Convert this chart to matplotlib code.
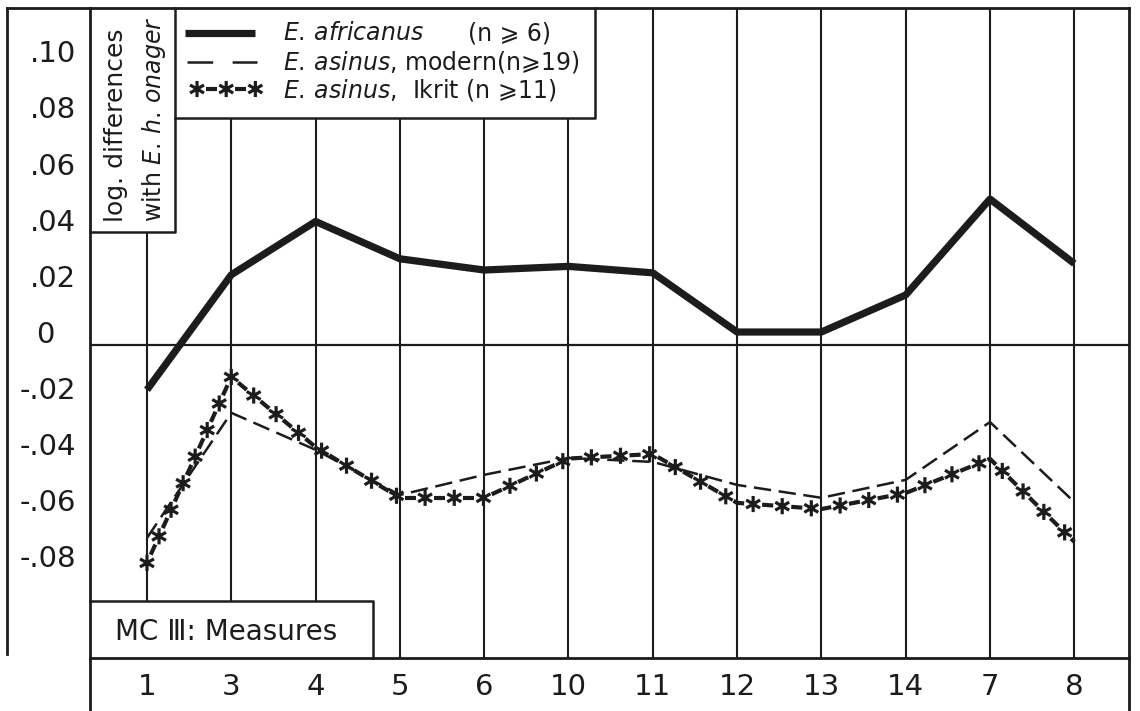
import numpy as np
import matplotlib
matplotlib.use("Agg")
import matplotlib.pyplot as plt
from matplotlib.lines import Line2D
from matplotlib.path import Path
from matplotlib.transforms import IdentityTransform, blended_transform_factory, offset_copy
from matplotlib.patheffects import AbstractPathEffect

# ---------------- data ----------------
measures = ["1", "3", "4", "5", "6", "10", "11", "12", "13", "14", "7", "8"]
africanus = [-0.016, 0.025, 0.044, 0.0307, 0.0267, 0.028, 0.0257, 0.0046, 0.0046, 0.0178, 0.052, 0.029]
asinus_modern = [-0.0688, -0.0242, -0.0374, -0.0535, -0.0463, -0.0403, -0.0417, -0.0499, -0.0545, -0.0481, -0.0275, -0.056]
asinus_ikrit = [-0.0777, -0.0114, -0.0364, -0.0545, -0.0545, -0.0405, -0.0389, -0.0563, -0.0585, -0.0528, -0.0406, -0.0702]
ytick_values = [0.10, 0.08, 0.06, 0.04, 0.02, 0.0, -0.02, -0.04, -0.06, -0.08]
ytick_labels = [".10", ".08", ".06", ".04", ".02", "0", "-.02", "-.04", "-.06", "-.08"]

INK = "#1c1c1c"
plt.rcParams["font.family"] = ["DejaVu Sans"]
plt.rcParams["mathtext.fontset"] = "dejavusans"
plt.rcParams["lines.scale_dashes"] = False


class StarDashStroke(AbstractPathEffect):
    """Line style: asterisks spaced along the path with short dashes between them."""

    def __init__(self, spacing=21.0, start=0.0, radius=5.8, gap=6.5, star_lw=2.3, line_lw=3.0):
        super().__init__()
        self.spacing, self.start, self.radius = spacing, start, radius
        self.gap, self.star_lw, self.line_lw = gap, star_lw, line_lw

    def draw_path(self, renderer, gc, tpath, affine, rgbFace=None):
        k = renderer.points_to_pixels(1.0)
        verts = affine.transform(tpath.vertices)
        d = np.hypot(*np.diff(verts, axis=0).T)
        verts = verts[np.concatenate([[True], d > 1e-9])]
        cum = np.concatenate([[0.0], np.cumsum(np.hypot(*np.diff(verts, axis=0).T))])
        total = cum[-1]
        sp, st, r, g = self.spacing * k, self.start * k, self.radius * k, self.gap * k

        def at(s):
            s = np.atleast_1d(s)
            return np.column_stack([np.interp(s, cum, verts[:, 0]), np.interp(s, cum, verts[:, 1])])

        stars = np.arange(st, total + 1e-6, sp)
        gl = renderer.new_gc()
        gl.copy_properties(gc)
        gl.set_dashes(0, None)
        gl.set_linewidth(self.line_lw)
        gl.set_capstyle("butt")
        bounds = list(stars) + ([total + g] if total - stars[-1] > g + 2 * k else [])
        for a, b in zip(bounds[:-1], bounds[1:]):
            s0, s1 = a + g, min(b - g, total)
            if s1 <= s0:
                continue
            inner = verts[(cum > s0) & (cum < s1)]
            poly = np.vstack([at(s0), inner, at(s1)])
            renderer.draw_path(gl, Path(poly), IdentityTransform())
        gs = renderer.new_gc()
        gs.copy_properties(gc)
        gs.set_dashes(0, None)
        gs.set_linewidth(self.star_lw)
        gs.set_capstyle("butt")
        for p in at(stars):
            pts, codes = [], []
            for ang in (90, 30, 150):
                dx, dy = r * np.cos(np.radians(ang)), r * np.sin(np.radians(ang))
                pts += [(p[0] - dx, p[1] - dy), (p[0] + dx, p[1] + dy)]
                codes += [Path.MOVETO, Path.LINETO]
            renderer.draw_path(gs, Path(np.array(pts), codes), IdentityTransform())
        gl.restore()
        gs.restore()


W, H = 1140, 711
fig = plt.figure(figsize=(W / 100, H / 100), dpi=100)
fig.patch.set_facecolor("white")


def fx(p):
    return p / W


def fy(p):
    return 1 - p / H


AX_L, AX_R, AX_T, AX_B = 90, 1129, 8, 658
ax = fig.add_axes([fx(AX_L), fy(AX_B), (AX_R - AX_L) / W, (AX_B - AX_T) / H])
x = np.arange(len(measures))
ax.set_xlim(-0.676, 11.649)
ax.set_ylim(-0.1116, 0.1201)
for s in ax.spines.values():
    s.set_linewidth(2.0)
    s.set_color(INK)
ax.set_yticks([])
ax.set_xticks(x, measures, fontsize=21, color=INK)
ax.tick_params(axis="x", length=0, pad=11)


def ay(p):
    return (AX_B - p) / (AX_B - AX_T)


def axx(p):
    return (p - AX_L) / (AX_R - AX_L)


# vertical rulings (extents follow the boxes of the original drawing)
tops = [ay(232)] + [ay(118)] * 5 + [1.0] * 6
bottoms = [ay(601)] * 3 + [0.0] * 9
ax.vlines(x, bottoms, tops, transform=ax.get_xaxis_transform(), colors=INK, lw=1.5, zorder=1)
ax.axhline(0, color=INK, lw=1.6, zorder=1)

# boxes inside the frame
for xs, ys in [([175, 175, 90], [8, 232, 232]),
               ([175, 595, 595], [118, 118, 8]),
               ([90, 373, 373], [601, 601, 658])]:
    ax.plot([axx(v) for v in xs], [ay(v) for v in ys], transform=ax.transAxes,
            color=INK, lw=1.8, clip_on=False, zorder=2)

# outer frame parts outside the axes
for xs, ys in [([7, 7], [8, 654]), ([7, 90], [8, 8]),
               ([90, 90], [658, 711]), ([1129, 1129], [658, 711])]:
    fig.add_artist(Line2D([fx(v) for v in xs], [fy(v) for v in ys], color=INK, lw=2.0))

# data series
ax.plot(x, africanus, color=INK, lw=5.2, solid_joinstyle="round", solid_capstyle="butt", zorder=4)
ax.plot(x, asinus_modern, color=INK, lw=1.8, dashes=(12.5, 5.5), zorder=3)
ax.plot(x, asinus_ikrit, color=INK, lw=3.0, zorder=3, path_effects=[StarDashStroke()])

# y labels
ytr = offset_copy(blended_transform_factory(fig.transFigure, ax.transData), fig=fig, y=10, units="dots")
for v, lab in zip(ytick_values, ytick_labels):
    fig.text(fx(55) if lab == "0" else fx(76), v, lab, transform=ytr, ha="right", va="center",
             fontsize=21, color=INK)

# axis title box
fig.text(fx(116), fy(222), "log. differences", rotation=90, rotation_mode="anchor",
         ha="left", va="center", fontsize=18, color=INK)
fig.text(fx(154), fy(222), r"with $\it{E.\,h.\,onager}$", rotation=90, rotation_mode="anchor",
         ha="left", va="center", fontsize=17, color=INK)

# legend
fig.add_artist(Line2D([fx(185), fx(255)], [fy(33), fy(33)], color=INK, lw=5.2, solid_capstyle="butt"))
fig.add_artist(Line2D([fx(187), fx(257)], [fy(62), fy(62)], color=INK, lw=1.8, dashes=(18.5, 14)))
fig.add_artist(Line2D([fx(188), fx(258)], [fy(89), fy(89)], color=INK, lw=3.0,
                      path_effects=[StarDashStroke(start=6.5)]))
fig.text(fx(283), fy(33), r"$\it{E.\,africanus}$", va="center", fontsize=17, color=INK)
fig.text(fx(468), fy(33), "(n ⩾ 6)", va="center", fontsize=17, color=INK)
fig.text(fx(283), fy(62), r"$\it{E.\,asinus}$, modern(n⩾19)", va="center", fontsize=17, color=INK)
fig.text(fx(283), fy(90), r"$\it{E.\,asinus}$,  Ikrit (n ⩾11)", va="center", fontsize=17, color=INK)

fig.text(fx(115), fy(632), "MC Ⅲ: Measures", va="center", fontsize=20, color=INK)

fig.savefig("out.png", dpi=100, facecolor="white")
